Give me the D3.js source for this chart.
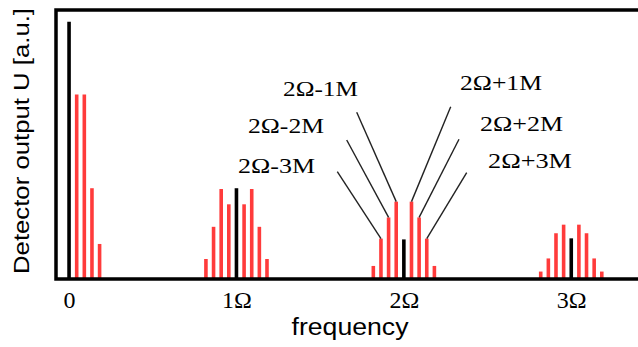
<!DOCTYPE html>
<html>
<head>
<meta charset="utf-8">
<script src="https://cdn.jsdelivr.net/npm/d3@7"></script>
<style>
  body { margin: 0; background: #fff; }
  svg { display: block; }
</style>
</head>
<body>
<div id="chart"></div>
<script>
// harmonics of the modulation frequency, in units of Omega
var harmonics = [0, 1, 2, 3];
var tickLabels = ["0", "1\u03A9", "2\u03A9", "3\u03A9"];
// carrier line height at each harmonic (black)
var carrier = [0.956, 0.335, 0.144, 0.148];
// sideband orders and spacing (in Omega units)
var sidebandOrders = [1, 2, 3, 4];
var M = 0.0456;
// sideband heights (red), orders 1..4; lower sidebands absent at 0
var upperSidebands = [
  [0.685, 0.685, 0.335, 0.127],
  [0.275, 0.332, 0.191, 0.071],
  [0.285, 0.226, 0.147, 0.045],
  [0.199, 0.167, 0.073, 0.024]
];
var lowerSidebands = [
  [],
  [0.275, 0.332, 0.191, 0.071],
  [0.285, 0.226, 0.147, 0.045],
  [0.199, 0.167, 0.073, 0.024]
];
// annotated sidebands around 2 Omega
var annotLabels = ["2\u03A9-1M", "2\u03A9-2M", "2\u03A9-3M", "2\u03A9+1M", "2\u03A9+2M", "2\u03A9+3M"];
var annotOrders = [-1, -2, -3, 1, 2, 3];

var width = 638, height = 347;

var svg = d3.select("#chart").append("svg")
  .attr("width", width)
  .attr("height", height);

var x = d3.scaleLinear()
  .domain([-0.078, 3.4])
  .range([56, 56 + 3.478 * 167.4]);

var y = d3.scaleLinear()
  .domain([0, 1])
  .range([278, 10]);

// flatten bars
var bars = [];
harmonics.forEach(function (h, i) {
  lowerSidebands[i].forEach(function (v, k) {
    bars.push({ f: h - sidebandOrders[k] * M, v: v, type: "side" });
  });
  upperSidebands[i].forEach(function (v, k) {
    bars.push({ f: h + sidebandOrders[k] * M, v: v, type: "side" });
  });
  bars.push({ f: h, v: carrier[i], type: "carrier" });
});

svg.append("g").selectAll("line")
  .data(bars)
  .enter()
  .append("line")
  .attr("x1", d => x(d.f))
  .attr("x2", d => x(d.f))
  .attr("y1", y(0))
  .attr("y2", d => y(d.v))
  .attr("stroke", d => d.type == "carrier" ? "#000" : "#ff3b3b")
  .attr("stroke-width", 3.6);

// leader lines for the 2 Omega annotations
var labelPos = [
  { lx: 283, ly: 96, ex: 356.7, ey: 112.3, w: 75 },
  { lx: 248, ly: 132.5, ex: 346.7, ey: 140, w: 76 },
  { lx: 238, ly: 172.5, ex: 337.3, ey: 171.7, w: 77 },
  { lx: 460, ly: 90, ex: 450.7, ey: 106.7, w: 82 },
  { lx: 480, ly: 131, ex: 459, ey: 139.3, w: 83 },
  { lx: 488, ly: 167.5, ex: 466.7, ey: 172.7, w: 84 }
];

var annot = annotOrders.map(function (o, i) {
  var k = Math.abs(o) - 1;
  var v = o < 0 ? lowerSidebands[2][k] : upperSidebands[2][k];
  return { f: 2 + o * M, v: v, label: annotLabels[i], pos: labelPos[i] };
});

svg.append("g").selectAll("line")
  .data(annot)
  .enter()
  .append("line")
  .attr("x1", d => x(d.f))
  .attr("y1", d => y(d.v))
  .attr("x2", d => d.pos.ex)
  .attr("y2", d => d.pos.ey)
  .attr("stroke", "#222")
  .attr("stroke-width", 1.4);

svg.append("g").selectAll("text")
  .data(annot)
  .enter()
  .append("text")
  .attr("x", d => d.pos.lx)
  .attr("y", d => d.pos.ly)
  .attr("textLength", d => d.pos.w)
  .attr("lengthAdjust", "spacingAndGlyphs")
  .style("font-family", "'Liberation Serif', 'Times New Roman', serif")
  .style("font-size", "22px")
  .attr("fill", "#000")
  .text(d => d.label);

// frame: left, top, bottom
svg.append("path")
  .attr("d", "M" + (width + 5) + "," + y(1) + "H" + x.range()[0] + "V" + (y(0) + 1) + "H" + (width + 5))
  .attr("fill", "none")
  .attr("stroke", "#000")
  .attr("stroke-width", 3.5);

// x axis ticks
var xAxis = d3.axisBottom(x)
  .tickValues(harmonics)
  .tickSize(0)
  .tickPadding(10)
  .tickFormat((d, i) => tickLabels[i]);

var gx = svg.append("g")
  .attr("transform", "translate(0," + (y(0) + 3) + ")")
  .call(xAxis);
gx.select(".domain").remove();
gx.selectAll("text")
  .style("font-family", "'Liberation Serif', 'Times New Roman', serif")
  .style("font-size", "24px")
  .attr("fill", "#000");

svg.append("text")
  .attr("x", 350)
  .attr("y", 335)
  .attr("text-anchor", "middle")
  .attr("textLength", 117)
  .attr("lengthAdjust", "spacingAndGlyphs")
  .style("font-family", "'Liberation Sans', Arial, sans-serif")
  .style("font-size", "23px")
  .text("frequency");

svg.append("text")
  .attr("transform", "translate(29,141) rotate(-90)")
  .attr("text-anchor", "middle")
  .attr("textLength", 266)
  .attr("lengthAdjust", "spacingAndGlyphs")
  .style("font-family", "'Liberation Sans', Arial, sans-serif")
  .style("font-size", "22px")
  .text("Detector output U [a.u.]");
</script>
</body>
</html>
